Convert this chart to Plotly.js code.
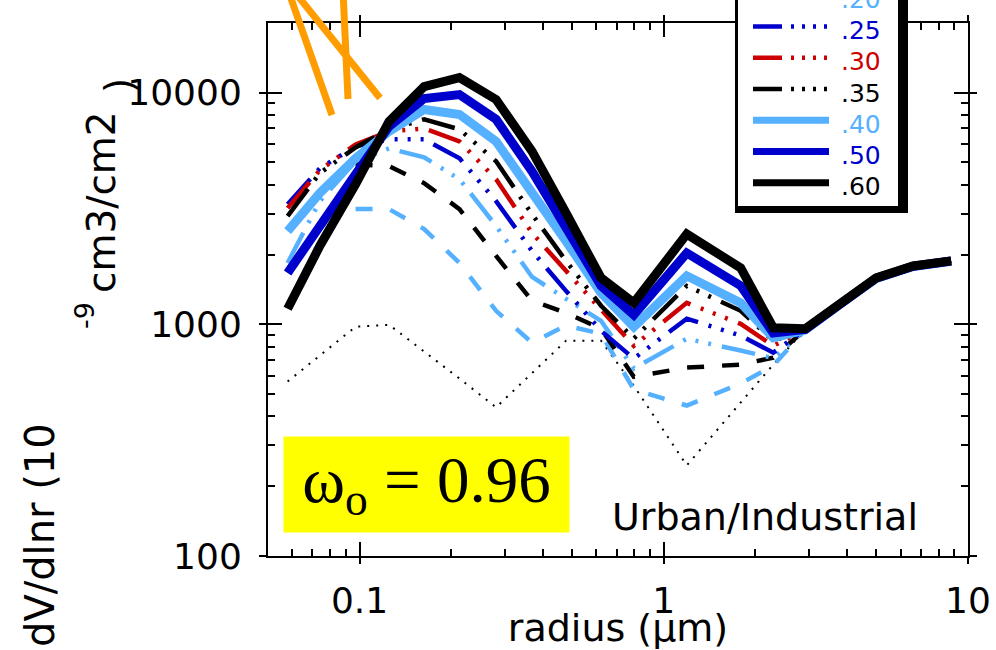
<!DOCTYPE html>
<html><head><meta charset="utf-8">
<script src="https://cdn.plot.ly/plotly-3.0.1.min.js"></script>
<style>html,body{margin:0;padding:0;background:#fff;} #chart{width:996px;height:650px;}</style>
</head><body><div id="chart"></div>
<script>
// ---- data ----
const radius = [0.058, 0.074, 0.097, 0.125, 0.163, 0.213, 0.281, 0.369, 0.477, 0.622, 0.797, 1.19, 1.79, 2.29, 2.92, 3.80, 4.99, 6.6, 8.8];
const seriesNames = ['.05', '.10', '.15', '.20', '.25', '.30', '.35', '.40', '.50', '.60'];
const s05 = [566, 732, 976, 995, 763, 583, 438, 618, 849, 849, 543, 246, 459, 670, 950, 1237, 1585, 1785, 1877];
const s10 = [null, null, 3140, 3140, 2576, 1839, 1143, 832, 987, 910, 523, 446, 555, 663, 950, 1237, 1585, 1785, 1877];
const s15 = [null, null, 4900, 4808, 4064, 3140, 1972, 1262, 1121, 957, 594, 650, 670, 718, 950, 1237, 1585, 1785, 1877];
const s20 = [1839, 3398, 5050, 5740, 5250, 4225, 2656, 1600, 1288, 1035, 644, 866, 770, 714, 950, 1237, 1585, 1785, 1877];
const s25 = [3296, 4710, 5860, 6280, 6280, 5200, 3400, 2070, 1393, 937, 711, 1057, 893, 754, 950, 1237, 1585, 1785, 1877];
const s30 = [3170, 4620, 5970, 6790, 7000, 6150, 4225, 2477, 1700, 1166, 807, 1237, 1004, 807, 950, 1237, 1585, 1785, 1877];
const s35 = [2930, 4486, 5795, 6935, 7660, 6935, 5050, 2985, 1875, 1202, 867, 1464, 1143, 849, 950, 1237, 1585, 1785, 1877];
const s40 = [2523, 3680, 5200, 6800, 8450, 8040, 6150, 3750, 2285, 1366, 975, 1618, 1237, 875, 945, 1225, 1575, 1775, 1870];
const s50 = [1665, 2690, 4440, 7140, 9420, 9800, 7660, 4570, 2575, 1466, 1099, 2030, 1466, 918, 950, 1230, 1580, 1780, 1874];
const s60 = [1166, 2176, 4018, 7500, 10610, 11600, 9330, 5570, 3020, 1585, 1237, 2450, 1750, 966, 957, 1237, 1585, 1785, 1877];
const seriesValues = [s05, s10, s15, s20, s25, s30, s35, s40, s50, s60];
const xTickVals = [0.1, 1, 10];
const xTickText = ['0.1', '1', '10'];
const yTickVals = [100, 1000, 10000];
const yTickText = ['100', '1000', '10000'];

// ---- styles ----
const LB = '#55b1ff', BL = '#0000cc', RD = '#cc0000', BK = '#000000';
const DASHDOT = '34px,11px,3px,10px,3px,10px,3px,11px';
const styles = [
  {color: BK, width: 2, dash: '2px,7px'},
  {color: LB, width: 4.5, dash: '17px,18px'},
  {color: BK, width: 4.5, dash: '17px,18px'},
  {color: LB, width: 4.5, dash: DASHDOT},
  {color: BL, width: 4.5, dash: DASHDOT},
  {color: RD, width: 4.5, dash: DASHDOT},
  {color: BK, width: 4.5, dash: DASHDOT},
  {color: LB, width: 9, dash: 'solid'},
  {color: BL, width: 9, dash: 'solid'},
  {color: BK, width: 9, dash: 'solid'}
];

const traces = seriesValues.map((vals, i) => ({
  type: 'scatter', mode: 'lines', name: seriesNames[i],
  x: radius, y: vals, connectgaps: false, showlegend: false,
  line: {color: styles[i].color, width: styles[i].width, dash: styles[i].dash, shape: 'linear'},
  hoverinfo: 'skip'
}));
traces.push({type: 'scatter', mode: 'lines', x: [], y: [], xaxis: 'x2', yaxis: 'y2', showlegend: false, hoverinfo: 'skip'});

// minor ticks
function minorTicks(lo, hi) { const out = []; for (let d = lo; d < hi; d++) for (let k = 2; k <= 9; k++) out.push(k * Math.pow(10, d)); return out; }
const minorX = minorTicks(-2, 1).filter(v => v > 0.05 && v < 10);
const minorY = minorTicks(2, 5).filter(v => v < 20000);

// ---- geometry helpers (pixel -> paper) ----
const W = 996, H = 650, ML = 268, MR = 28, MT = 23, MB = 94;
const PW = W - ML - MR, PH = H - MT - MB;
const px = x => (x - ML) / PW;
const py = y => (H - MB - y) / PH;

const FONT = 'DejaVu Sans';
const shapes = [];
const annotations = [];

// orange marks at top left
[[288, 0, 332, 115], [343, 0, 348, 99], [293, 0, 380, 98]].forEach(s => shapes.push({
  type: 'line', xref: 'paper', yref: 'paper', x0: px(s[0]), y0: py(s[1] - 10), x1: px(s[2]), y1: py(s[3]),
  line: {color: '#ff9c00', width: 7}, layer: 'above'
}));

// legend box (with heavy shadow on right/bottom)
shapes.push({type: 'rect', xref: 'paper', yref: 'paper', x0: px(735), x1: px(908), y0: py(213), y1: py(-60), fillcolor: '#000', line: {width: 0}, layer: 'above'});
shapes.push({type: 'rect', xref: 'paper', yref: 'paper', x0: px(738), x1: px(898), y0: py(206), y1: py(-60), fillcolor: '#fff', line: {width: 0}, layer: 'above'});
const LEG_DASH = '29px,9px,3px,8px,3px,8px,3px,8px,3px,20px';
const legendRows = [-5, 26.5, 57.8, 89, 120.3, 151.5, 182.7];
legendRows.forEach((ry, j) => {
  const i = j + 3;
  const st = styles[i];
  shapes.push({type: 'line', xref: 'paper', yref: 'paper', x0: px(753), x1: px(829), y0: py(ry), y1: py(ry),
    line: {color: st.color, width: st.width >= 8 ? 7 : 4.5, dash: st.dash === DASHDOT ? LEG_DASH : st.dash}, layer: 'above'});
  annotations.push({xref: 'paper', yref: 'paper', x: px(839), y: py(ry + 4), xanchor: 'left', yanchor: 'middle',
    text: seriesNames[i], showarrow: false, font: {family: FONT, size: 25, color: st.color}});
});

// omega box
annotations.push({xref: 'paper', yref: 'paper', x: px(283), y: py(436), xanchor: 'left', yanchor: 'top',
  width: 285, height: 95, borderpad: 0, bgcolor: '#ffff00', align: 'center', valign: 'middle',
  text: 'ω<sub>o</sub> = 0.96', showarrow: false, font: {family: 'Liberation Serif', size: 65, color: '#000'}});
// region label
annotations.push({xref: 'paper', yref: 'paper', x: px(765), y: py(517), xanchor: 'center', yanchor: 'middle',
  text: 'Urban/Industrial', showarrow: false, font: {family: FONT, size: 38, color: '#000'}});
// y title pieces
annotations.push({xref: 'paper', yref: 'paper', x: px(40), y: py(535), xanchor: 'center', yanchor: 'middle', textangle: -90,
  text: 'dV/dlnr (10', showarrow: false, font: {family: FONT, size: 40, color: '#000'}});
annotations.push({xref: 'paper', yref: 'paper', x: px(84), y: py(316), xanchor: 'center', yanchor: 'middle', textangle: -90,
  text: '-9', showarrow: false, font: {family: FONT, size: 27, color: '#000'}});
annotations.push({xref: 'paper', yref: 'paper', x: px(101), y: py(202), xanchor: 'center', yanchor: 'middle', textangle: -90,
  text: 'cm3/cm2', showarrow: false, font: {family: FONT, size: 39, color: '#000'}});
annotations.push({xref: 'paper', yref: 'paper', x: px(119), y: py(86), xanchor: 'center', yanchor: 'middle', textangle: -90,
  text: ')', showarrow: false, font: {family: FONT, size: 39, color: '#000'}});

const axisCommon = {
  type: 'log', showgrid: false, zeroline: false, showline: true, linewidth: 2, linecolor: '#000',
  mirror: 'ticks', ticks: 'inside', ticklen: 14, tickwidth: 2, tickcolor: '#000',
  tickfont: {family: FONT, size: 36, color: '#000'}
};
const layout = {
  width: W, height: H, margin: {l: ML, r: MR, t: MT, b: MB, pad: 0},
  paper_bgcolor: '#fff', plot_bgcolor: '#fff', showlegend: false,
  xaxis: Object.assign({}, axisCommon, {
    range: [Math.log10(0.05), 1], tickmode: 'array', tickvals: xTickVals, ticktext: xTickText,
    minor: {ticks: 'inside', ticklen: 7, tickwidth: 2, tickcolor: '#000', tickmode: 'array', tickvals: minorX, showgrid: false},
    ticklabelstandoff: 12,
    title: {text: 'radius (μm)', font: {family: FONT, size: 38, color: '#000'}, standoff: 2}
  }),
  yaxis: Object.assign({}, axisCommon, {
    range: [2, 4.3], tickmode: 'array', tickvals: yTickVals, ticktext: yTickText,
    minor: {ticks: 'inside', ticklen: 7, tickwidth: 2, tickcolor: '#000', tickmode: 'array', tickvals: minorY, showgrid: false},
    ticklabelstandoff: 17
  }),
  xaxis2: {type: 'log', overlaying: 'x', anchor: 'y2', range: [Math.log10(0.05), 1], showgrid: false, zeroline: false,
    showline: false, mirror: 'ticks', ticks: 'outside', ticklen: 7, tickwidth: 2, tickcolor: '#000',
    tickmode: 'array', tickvals: xTickVals, showticklabels: false},
  yaxis2: {type: 'log', overlaying: 'y', anchor: 'x2', range: [2, 4.3], showgrid: false, zeroline: false,
    showline: false, mirror: 'ticks', ticks: 'outside', ticklen: 8, tickwidth: 2, tickcolor: '#000',
    tickmode: 'array', tickvals: yTickVals, showticklabels: false},
  shapes: shapes, annotations: annotations
};
Plotly.newPlot('chart', traces, layout, {staticPlot: true, displayModeBar: false});
</script></body></html>
